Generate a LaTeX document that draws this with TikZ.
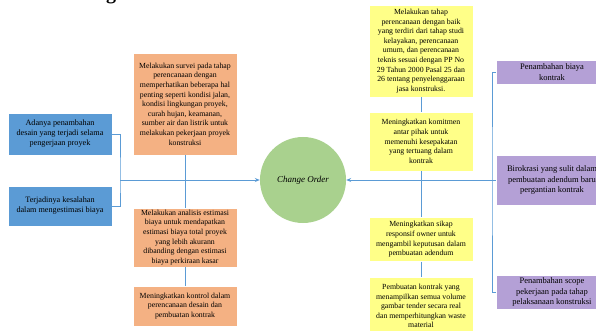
\documentclass[tikz,border=0pt]{standalone}
\usepackage{fontspec}
\setmainfont{Liberation Serif}
\usetikzlibrary{arrows.meta,shadows}
\tikzset {>=Stealth}
\definecolor{lineblue}{HTML}{5B9BD5}
\definecolor{boxblue}{HTML}{5B9BD5}
\definecolor{boxorange}{HTML}{F4B183}
\definecolor{boxyellow}{HTML}{FFFF88}
\definecolor{boxgreen}{HTML}{A9D18E}
\definecolor{boxpurple}{HTML}{B4A0D6}
\tikzset{
  box/.style={draw=white,line width=0.6pt,align=center,inner sep=1pt,
    font=\fontsize{7.8}{9.6}\selectfont,
    drop shadow={opacity=0.2,shadow xshift=0.8pt,shadow yshift=-0.8pt}},
  bluebox/.style={box,fill=boxblue,minimum width=104pt,font=\fontsize{8.2}{10}\selectfont},
  orangebox/.style={box,fill=boxorange,minimum width=104pt},
  yellowbox/.style={box,fill=boxyellow,minimum width=104pt},
  purplebox/.style={box,fill=boxpurple,minimum width=112pt,font=\fontsize{8.5}{10.8}\selectfont},
  link/.style={draw=lineblue,line width=0.8pt},
  arrowlink/.style={link,-{Stealth[length=5pt,width=4pt]}}
}
\begin{document}
\begin{tikzpicture}[x=1pt,y=-1pt]
\useasboundingbox (0,0) rectangle (596,331);
\clip (0,0) rectangle (596,331);
\node[font=\bfseries\fontsize{20}{20}\selectfont,anchor=base,inner sep=0pt] (ttl) at (111,0) {g};
\node[bluebox,minimum height=42pt] (desain) at (60,134) {Adanya penambahan\\desain yang terjadi selama\\pengerjaan proyek};
\node[bluebox,minimum height=40pt] (salah) at (60,206) {Terjadinya kesalahan\\dalam mengestimasi biaya};
\node[orangebox,minimum height=102pt] (survei) at (185,104) {Melakukan survei pada tahap\\perencanaan dengan\\memperhatikan beberapa hal\\penting seperti kondisi jalan,\\kondisi lingkungan proyek,\\curah hujan, keamanan,\\sumber air dan listrik untuk\\melakukan pekerjaan proyek\\konstruksi};
\node[orangebox,minimum height=59pt] (analisis) at (185,237.5) {Melakukan analisis estimasi\\biaya untuk mendapatkan\\estimasi biaya total proyek\\yang lebih akurann\\dibanding dengan estimasi\\biaya perkiraan kasar};
\node[orangebox,minimum height=40pt] (kontrol) at (185,306) {Meningkatkan kontrol dalam\\perencanaan desain dan\\pembuatan kontrak};
\node[yellowbox,minimum height=92pt] (tahap) at (421,51) {Melakukan tahap\\perencanaan dengan baik\\yang terdiri dari tahap studi\\kelayakan, perencanaan\\umum, dan perencanaan\\teknis sesuai dengan PP No\\29 Tahun 2000 Pasal 25 dan\\26 tentang penyelenggaraan\\jasa konstruksi.};
\node[yellowbox,minimum height=59pt] (komitmen) at (421,141.5) {Meningkatkan komitmen\\antar pihak untuk\\memenuhi kesepakatan\\yang tertuang dalam\\kontrak};
\node[yellowbox,minimum height=44pt] (sikap) at (421,239.5) {Meningkatkan sikap\\responsif owner untuk\\mengambil keputusan dalam\\pembuatan adendum};
\node[yellowbox,minimum height=58pt] (gambar) at (421,306) {Pembuatan kontrak yang\\menampilkan semua volume\\gambar tender secara real\\dan memperhitungkan waste\\material};
\node[purplebox,minimum height=24pt] (biaya) at (552,72) {Penambahan biaya\\kontrak};
\node[purplebox,minimum height=50pt] (birokrasi) at (552,180) {Birokrasi yang sulit dalam\\pembuatan adendum baru\\pergantian kontrak};
\node[purplebox,minimum height=34pt] (scope) at (552,292) {Penambahan scope\\pekerjaan pada tahap\\pelaksanaan konstruksi};
\node[circle,fill=boxgreen,minimum size=86pt,inner sep=0pt,font=\itshape\fontsize{9}{11}\selectfont] (co) at (303,180) {Change Order};
\coordinate (lj) at (120,180);
\coordinate (rj) at (492,180);
\draw[link] (desain.east) -| (lj) |- (salah.east);
\draw[arrowlink] (lj) -- (co.west);
\draw[link] (survei.south) -- (analisis.north);
\draw[link] (analisis.south) -- (kontrol.north);
\draw[link] (tahap.south) -- (komitmen.north);
\draw[link] (komitmen.south) -- (sikap.north);
\draw[link] (sikap.south) -- (gambar.north);
\draw[link] (biaya.west) -| (rj) |- (scope.west);
\draw[link] (rj) -- (birokrasi.west);
\draw[arrowlink] (rj) -- (co.east);
\end{tikzpicture}
\end{document}
